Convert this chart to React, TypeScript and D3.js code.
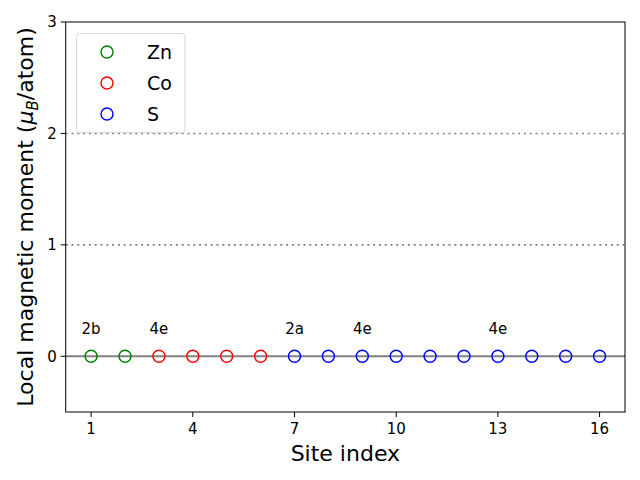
import React from "react";
import * as d3 from "d3";

const sites = [1, 2, 3, 4, 5, 6, 7, 8, 9, 10, 11, 12, 13, 14, 15, 16];
const moments = [0, 0, 0, 0, 0, 0, 0, 0, 0, 0, 0, 0, 0, 0, 0, 0];
const elements = ["Zn", "Zn", "Co", "Co", "Co", "Co", "S", "S", "S", "S", "S", "S", "S", "S", "S", "S"];
const legendNames = ["Zn", "Co", "S"];
const legendColors = ["green", "red", "blue"];
const wyckoffSites = [1, 3, 7, 9, 13];
const wyckoffLabels = ["2b", "4e", "2a", "4e", "4e"];
const xTicks = [1, 4, 7, 10, 13, 16];
const yTicks = [0, 1, 2, 3];
const guideLevels = [1, 2];

export default function App() {
  const W = 640, H = 480;
  const left = 65.7, right = 625, top = 22, bottom = 412;
  const x = d3.scaleLinear().domain([0.25, 16.75]).range([left, right]);
  const y = d3.scaleLinear().domain([-0.5, 3]).range([bottom, top]);
  const color = d3.scaleOrdinal<string, string>().domain(legendNames).range(legendColors);
  const font = "DejaVu Sans, sans-serif";

  return (
    <svg width={W} height={H} style={{ position: "absolute", left: 0, top: 0 }} fontFamily={font}>
      <rect x={0} y={0} width={W} height={H} fill="white" />
      {guideLevels.map((g) => (
        <line key={g} x1={left} x2={right} y1={y(g)} y2={y(g)} stroke="#808080" strokeWidth={1.6} strokeDasharray="2,3.8" />
      ))}
      <line x1={left} x2={right} y1={y(0)} y2={y(0)} stroke="#808080" strokeWidth={2} />
      {sites.map((s, i) => (
        <circle key={s} cx={x(s)} cy={y(moments[i])} r={6} fill="none" stroke={color(elements[i])} strokeWidth={1.4} />
      ))}
      {wyckoffSites.map((s, i) => (
        <text key={i} x={x(s)} y={y(0.2)} textAnchor="middle" fontSize={15} fill="black">{wyckoffLabels[i]}</text>
      ))}
      <rect x={left} y={top} width={right - left} height={bottom - top} fill="none" stroke="black" strokeWidth={1} />
      {xTicks.map((t) => (
        <g key={t}>
          <line x1={x(t)} x2={x(t)} y1={bottom} y2={bottom + 5} stroke="black" />
          <text x={x(t)} y={bottom + 22} textAnchor="middle" fontSize={15}>{t}</text>
        </g>
      ))}
      {yTicks.map((t) => (
        <g key={t}>
          <line x1={left - 5} x2={left} y1={y(t)} y2={y(t)} stroke="black" />
          <text x={left - 9} y={y(t) + 5.3} textAnchor="end" fontSize={15}>{t}</text>
        </g>
      ))}
      <text x={(left + right) / 2} y={461} textAnchor="middle" fontSize={22}>Site index</text>
      <text transform={`translate(33, ${(top + bottom) / 2}) rotate(-90)`} textAnchor="middle" fontSize={22}>
        Local magnetic moment (<tspan fontStyle="italic">μ</tspan>
        <tspan fontStyle="italic" fontSize={15} dy={5}>B</tspan>
        <tspan dy={-5}>/atom)</tspan>
      </text>
      <g>
        <rect x={76.5} y={33.5} width={108.5} height={99} rx={3} fill="white" fillOpacity={0.8} stroke="#d9d9d9" strokeWidth={1} />
        {legendNames.map((n, i) => (
          <g key={n}>
            <circle cx={107} cy={52 + i * 31} r={6} fill="none" stroke={legendColors[i]} strokeWidth={1.4} />
            <text x={147} y={52 + i * 31 + 6.8} fontSize={19}>{n}</text>
          </g>
        ))}
      </g>
    </svg>
  );
}
